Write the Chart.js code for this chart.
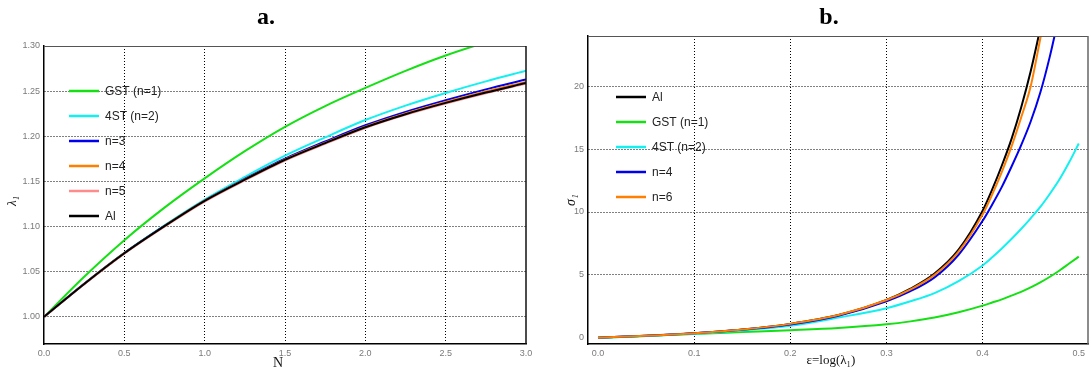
<!DOCTYPE html>
<html lang="en">
<head>
<meta charset="UTF-8">
<title>Stretch and stress curves</title>
<script src="https://cdn.jsdelivr.net/npm/chart.js"></script>
<style>
  body {
    margin: 0;
    background: #fff;
    width: 1091px;
    height: 372px;
    overflow: hidden;
    position: relative;
  }
  .panel { position: absolute; top: 0; height: 372px; }
  #panelA { left: 0; width: 545px; }
  #panelB { left: 545px; width: 546px; }
</style>
</head>
<body>
<div class="panel" id="panelA"><canvas id="chartA" width="545" height="372"></canvas></div>
<div class="panel" id="panelB"><canvas id="chartB" width="546" height="372"></canvas></div>
<script>
// --- panel a: lambda_1 against N ---
const nValues = [0, 0.25, 0.5, 0.75, 1.0, 1.25, 1.5, 1.75, 2.0, 2.25, 2.5, 2.75, 3.0];
const lamGST = [1.0, 1.0445, 1.085, 1.121, 1.1534, 1.1835, 1.2105, 1.2335, 1.2536, 1.2725, 1.2895, 1.304, 1.317];
const lam4ST = [1.0, 1.0367, 1.071, 1.1015, 1.13, 1.155, 1.1785, 1.1988, 1.218, 1.234, 1.248, 1.2608, 1.2725];
const lamN3  = [1.0, 1.0366, 1.0707, 1.1008, 1.1289, 1.1528, 1.1752, 1.1942, 1.2122, 1.2271, 1.24, 1.252, 1.263];
const lamN4  = [1.0, 1.0365, 1.0706, 1.1006, 1.1287, 1.1523, 1.1744, 1.193, 1.2107, 1.2253, 1.238, 1.2496, 1.2603];
const lamN5  = [1.0, 1.0361, 1.07, 1.0999, 1.1277, 1.1512, 1.1732, 1.1917, 1.2092, 1.2237, 1.2362, 1.2477, 1.2582];
const lamAl  = [1.0, 1.0365, 1.0705, 1.1005, 1.1285, 1.152, 1.174, 1.1925, 1.21, 1.2245, 1.237, 1.2485, 1.259];
const ticksN = [0, 0.5, 1, 1.5, 2, 2.5, 3];
const ticksLam = [1.00, 1.05, 1.10, 1.15, 1.20, 1.25, 1.30];
const gridN = [0.5, 1, 1.5, 2, 2.5];
const gridLam = [1.00, 1.05, 1.10, 1.15, 1.20, 1.25];

// --- panel b: sigma_1 against eps = log(lambda_1) ---
const epsValues = [0, 0.05, 0.1, 0.15, 0.2, 0.25, 0.3, 0.325, 0.35, 0.375, 0.4, 0.41, 0.42, 0.43, 0.44, 0.45, 0.46, 0.47, 0.48, 0.49, 0.5];
const sigAl  = [0, 0.15, 0.36, 0.65, 1.1, 1.8, 3.0, 3.9, 5.1, 7.0, 10.1, 11.8, 13.7, 15.8, 18.3, 21.2, 24.6, null, null, null, null];
const sigGST = [0, 0.14, 0.3, 0.45, 0.6, 0.78, 1.07, 1.3, 1.6, 2.02, 2.55, 2.8, 3.05, 3.35, 3.65, 4.0, 4.4, 4.85, 5.35, 5.9, 6.45];
const sig4ST = [0, 0.13, 0.32, 0.58, 0.95, 1.6, 2.35, 2.9, 3.55, 4.5, 5.75, 6.4, 7.1, 7.85, 8.65, 9.5, 10.4, 11.45, 12.6, 13.95, 15.45];
const sigN4  = [0, 0.15, 0.35, 0.63, 1.05, 1.75, 2.9, 3.7, 4.8, 6.6, 9.3, 10.6, 12.0, 13.6, 15.3, 17.2, 19.5, 22.4, 25.8, null, null];
const sigN6  = [0, 0.15, 0.36, 0.65, 1.1, 1.8, 3.0, 3.85, 5.0, 6.85, 9.8, 11.4, 13.2, 15.2, 17.5, 20.0, 23.8, 27.8, null, null, null];
const ticksEps = [0, 0.1, 0.2, 0.3, 0.4, 0.5];
const ticksSig = [0, 5, 10, 15, 20];
const gridEps = [0.1, 0.2, 0.3, 0.4];
const gridSig = [5, 10, 15, 20];

const SANS = '"Liberation Sans", Arial, sans-serif';
const SERIF = '"Liberation Serif", "DejaVu Serif", serif';

function points(xs, ys) {
  return xs.map((x, i) => ({ x, y: ys[i] })).filter(p => p.y !== null);
}

function series(label, color, xs, ys, order) {
  return {
    label, data: points(xs, ys),
    borderColor: color, backgroundColor: color,
    borderWidth: 2, pointRadius: 0, fill: false,
    cubicInterpolationMode: 'monotone',
    order // later legend entries are painted on top
  };
}

function axis(opts) {
  return {
    type: 'linear',
    min: opts.min, max: opts.max,
    afterBuildTicks: s => { s.ticks = opts.ticks.map(v => ({ value: v })); },
    afterFit: s => { if (opts.size.h) s.height = opts.size.h; if (opts.size.w) s.width = opts.size.w; },
    ticks: {
      color: '#7a7a7a', font: { size: 9, family: SANS }, padding: 4,
      autoSkip: false, maxRotation: 0,
      callback: v => v.toFixed(opts.digits)
    },
    grid: {
      drawTicks: false, lineWidth: 1,
      color: ctx => (ctx.tick && opts.grid.some(g => Math.abs(g - ctx.tick.value) < 1e-9)) ? '#000' : 'rgba(0,0,0,0)'
    },
    border: { display: true, color: '#000', width: 1.5, dash: [1, 2] }
  };
}

// frame edges, inset legend, axis titles and panel letter
const decorations = {
  id: 'decorations',
  afterDraw(chart, args, o) {
    const { ctx, chartArea: a } = chart;
    ctx.save();
    ctx.lineWidth = 1;
    ctx.strokeStyle = o.topColor;
    ctx.beginPath(); ctx.moveTo(a.left, a.top + 0.5); ctx.lineTo(a.right, a.top + 0.5); ctx.stroke();
    ctx.strokeStyle = o.rightColor;
    ctx.lineWidth = 1.5;
    ctx.beginPath(); ctx.moveTo(a.right, a.top); ctx.lineTo(a.right, a.bottom); ctx.stroke();

    // legend
    ctx.font = '12px ' + SANS;
    ctx.textBaseline = 'middle';
    chart.data.datasets.forEach((d, i) => {
      const y = o.legend.y + i * o.legend.step;
      ctx.strokeStyle = d.borderColor;
      ctx.lineWidth = 2.5;
      ctx.beginPath(); ctx.moveTo(o.legend.x0, y); ctx.lineTo(o.legend.x1, y); ctx.stroke();
      ctx.fillStyle = '#222';
      ctx.textAlign = 'left';
      ctx.fillText(d.label, o.legend.tx, y + 0.5);
    });

    // axis titles
    ctx.fillStyle = '#111';
    ctx.textAlign = 'center';
    ctx.font = o.xTitle.font;
    ctx.fillText(o.xTitle.text, o.xTitle.x, o.xTitle.y);
    ctx.save();
    ctx.translate(o.yTitle.x, o.yTitle.y);
    ctx.rotate(-Math.PI / 2);
    ctx.font = o.yTitle.font;
    ctx.fillText(o.yTitle.text, 0, 0);
    ctx.restore();

    // panel letter
    ctx.fillStyle = '#000';
    ctx.font = 'bold 24px ' + SERIF;
    ctx.textBaseline = 'alphabetic';
    ctx.fillText(o.letter.text, o.letter.x, o.letter.y);
    ctx.restore();
  }
};

const common = {
  responsive: false,
  animation: false,
  devicePixelRatio: 1,
  events: [],
  plugins: { legend: { display: false }, tooltip: { enabled: false } }
};

new Chart(document.getElementById('chartA'), {
  type: 'line',
  data: {
    datasets: [
      series('GST (n=1)', '#14e014', nValues, lamGST, 5),
      series('4ST (n=2)', '#14f0f0', nValues, lam4ST, 4),
      series('n=3', '#0000ee', nValues, lamN3, 3),
      series('n=4', '#ff7f00', nValues, lamN4, 2),
      series('n=5', '#ff8c8c', nValues, lamN5, 1),
      series('Al', '#000000', nValues, lamAl, 0)
    ]
  },
  options: {
    ...common,
    layout: { padding: { top: 46, right: 19, bottom: 0, left: 0 } },
    scales: {
      x: axis({ min: 0, max: 3, ticks: ticksN, grid: gridN, digits: 1, size: { h: 28 } }),
      y: axis({ min: 0.97, max: 1.30, ticks: ticksLam, grid: gridLam, digits: 2, size: { w: 44 } })
    },
    plugins: {
      ...common.plugins,
      decorations: {
        topColor: '#555', rightColor: '#111',
        legend: { x0: 69, x1: 99, tx: 105, y: 91, step: 25 },
        xTitle: { text: 'N', x: 278, y: 363, font: '14px ' + SERIF },
        yTitle: { text: 'λ₁', x: 13, y: 201, font: 'italic 13px ' + SERIF },
        letter: { text: 'a.', x: 266, y: 24 }
      }
    }
  },
  plugins: [decorations]
});

new Chart(document.getElementById('chartB'), {
  type: 'line',
  data: {
    datasets: [
      series('Al', '#000000', epsValues, sigAl, 4),
      series('GST (n=1)', '#14e014', epsValues, sigGST, 3),
      series('4ST (n=2)', '#14f0f0', epsValues, sig4ST, 2),
      series('n=4', '#0000ee', epsValues, sigN4, 1),
      series('n=6', '#ff7f00', epsValues, sigN6, 0)
    ]
  },
  options: {
    ...common,
    layout: { padding: { top: 36, right: 3, bottom: 0, left: 0 } },
    scales: {
      x: axis({ min: -0.0104, max: 0.5096, ticks: ticksEps, grid: gridEps, digits: 1, size: { h: 28 } }),
      y: axis({ min: -0.5, max: 24, ticks: ticksSig, grid: gridSig, digits: 0, size: { w: 43 } })
    },
    plugins: {
      ...common.plugins,
      decorations: {
        topColor: '#555', rightColor: '#666',
        legend: { x0: 71, x1: 101, tx: 107, y: 97, step: 25 },
        xTitle: { text: 'ε=log(λ₁)', x: 286, y: 361, font: '13px ' + SERIF },
        yTitle: { text: 'σ₁', x: 26, y: 200, font: 'italic 14px ' + SERIF },
        letter: { text: 'b.', x: 284, y: 24 }
      }
    }
  },
  plugins: [decorations]
});
</script>
</body>
</html>
